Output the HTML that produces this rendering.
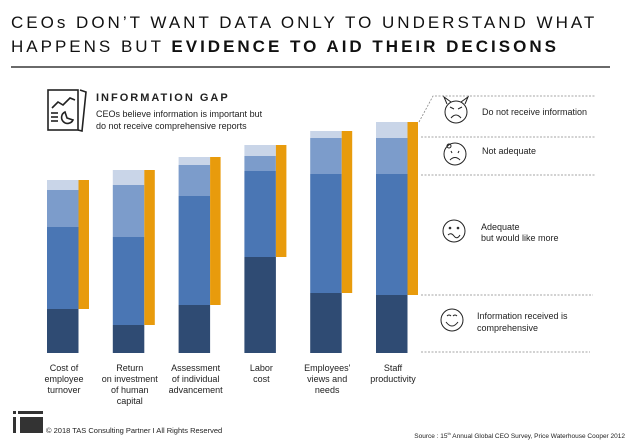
<!DOCTYPE html>
<html><head><meta charset="utf-8"><style>
body{margin:0;width:638px;height:442px;background:#fff;overflow:hidden;font-family:"Liberation Sans",sans-serif;}
svg{display:block}
</style></head><body>
<svg width="638" height="442">
<g id="hdr">
<text x="11" y="28" font-size="17" letter-spacing="3" fill="#111">CEOs DON’T WANT DATA ONLY TO UNDERSTAND WHAT</text>
<text x="11" y="52" font-size="17" letter-spacing="3" fill="#111">HAPPENS BUT <tspan font-weight="bold">EVIDENCE TO AID THEIR DECISONS</tspan></text>
<line x1="11" y1="67" x2="610" y2="67" stroke="#111" stroke-width="1.2"/>
</g>
<g fill="none" stroke="#222" stroke-width="1.6">
<rect x="48" y="90" width="30" height="40"/>
<path d="M80 90 L86 92 L82 131 L78 130"/>
<polyline points="52,108 58,102 63,105 70,98 75,100"/>
<line x1="51" y1="113" x2="58" y2="113"/><line x1="51" y1="117" x2="58" y2="117"/><line x1="51" y1="121" x2="58" y2="121"/>
<path d="M65 112 A6 6 0 1 0 73 120 L67 118 Z"/>
</g>
<text x="96" y="101" font-size="11" font-weight="bold" letter-spacing="2" fill="#222">INFORMATION GAP</text>
<text x="96" y="117" font-size="9" fill="#222">CEOs believe information is important but</text>
<text x="96" y="129" font-size="9" fill="#222">do not receive comprehensive reports</text>
<g id="bars"></g>
<g id="labels"></g>
<g id="legend" stroke="#888" stroke-width="0.8" fill="none">
<path d="M419 122 L433 96 L595 96" stroke-dasharray="2,1.5"/>
<line x1="421" y1="137" x2="595" y2="137" stroke-dasharray="2,1.5"/>
<line x1="421" y1="175" x2="595" y2="175" stroke-dasharray="2,1.5"/>
<line x1="421" y1="295" x2="593" y2="295" stroke-dasharray="2,1.5"/>
<line x1="421" y1="352" x2="590" y2="352" stroke-dasharray="2,1.5"/>
</g>
<g stroke="#222" stroke-width="1" fill="none">
<g><circle cx="456" cy="112" r="11"/><path d="M447 104 L444 97 L451 102 M465 104 L468 97 L461 102 M451 118 Q456 112 461 118 M450 107 L454 109 M462 107 L458 109"/></g>
<g><circle cx="455" cy="154" r="11"/><circle cx="449" cy="146" r="2"/><path d="M450 160 Q455 155 460 160 M451 151 L452 153 M459 151 L458 153"/></g>
<g><circle cx="454" cy="231" r="11"/><circle cx="450" cy="228" r="0.8"/><circle cx="458" cy="228" r="0.8"/><path d="M448 235 Q451 232 454 236 Q457 240 460 235"/></g>
<g><circle cx="452" cy="320" r="11"/><path d="M447 316 Q449 314 451 316 M453 316 Q455 314 457 316 M446 322 Q452 330 458 322"/></g>
</g>
<g font-size="9" fill="#222">
<text x="482" y="115">Do not receive information</text>
<text x="482" y="154">Not adequate</text>
<text x="481" y="230">Adequate</text>
<text x="481" y="241">but would like more</text>
<text x="477" y="319">Information received is</text>
<text x="477" y="331">comprehensive</text>
</g>
<g fill="#333">
<rect x="13" y="411" width="3" height="3"/><rect x="18" y="411" width="25" height="3"/>
<rect x="13" y="417" width="3" height="16"/><rect x="20" y="417" width="23" height="16"/>
</g>
<text x="46" y="433" font-size="7.5" fill="#222">© 2018 TAS Consulting Partner  I  All Rights Reserved</text>
<text x="625" y="438" font-size="6.5" fill="#222" text-anchor="end">Source : 15<tspan font-size="4" dy="-3">th</tspan><tspan dy="3"> Annual Global CEO Survey, Price Waterhouse Cooper 2012</tspan></text>
</svg>
<script>
const categories=[["Cost of","employee","turnover"],["Return","on investment","of human","capital"],["Assessment","of individual","advancement"],["Labor","cost"],["Employees'","views and","needs"],["Staff","productivity"]];
const comprehensive=[44,28,48,96,60,58];
const adequate=[82,88,109,86,119,121];
const notAdequate=[37,52,31,15,36,36];
const noInfo=[10,15,8,11,7,16];
const colors=["#2f4b73","#4a76b4","#7c9ccb","#c9d5e8"];
const NS="http://www.w3.org/2000/svg";
const base=353, pxPerUnit=1;
function y(v){return base-v*pxPerUnit;}
function xb(i){return 47+i*65.8;}
const bw=31.5, ow=10.5;
const g=document.getElementById('bars'), lg=document.getElementById('labels');
const series=[comprehensive,adequate,notAdequate,noInfo];
const sn=["comprehensive","adequate","not-adequate","no-info"];
categories.forEach((c,i)=>{
  let acc=0;
  series.forEach((s,k)=>{
    const r=document.createElementNS(NS,'rect');
    r.setAttribute('x',xb(i));r.setAttribute('width',bw);
    r.setAttribute('y',y(acc+s[i]));r.setAttribute('height',s[i]*pxPerUnit);
    r.setAttribute('fill',colors[k]);
    
    
    g.appendChild(r);acc+=s[i];
  });
  const o=document.createElementNS(NS,'rect');
  o.setAttribute('x',xb(i)+bw);o.setAttribute('width',ow);
  o.setAttribute('y',y(acc));o.setAttribute('height',(acc-comprehensive[i])*pxPerUnit);
  o.setAttribute('fill','#e89b0c');
  
  
  g.appendChild(o);
  const t=document.createElementNS(NS,'text');
  t.setAttribute('x',xb(i)+(bw+ow)/2-4);t.setAttribute('y',371);
  t.setAttribute('font-size','9');t.setAttribute('fill','#222');t.setAttribute('text-anchor','middle');
  
  
  c.forEach((ln,j)=>{const ts=document.createElementNS(NS,'tspan');ts.setAttribute('x',xb(i)+(bw+ow)/2-4);ts.setAttribute('dy',j?11:0);ts.textContent=ln;t.appendChild(ts);});
  lg.appendChild(t);
});
</script>
</body></html>
